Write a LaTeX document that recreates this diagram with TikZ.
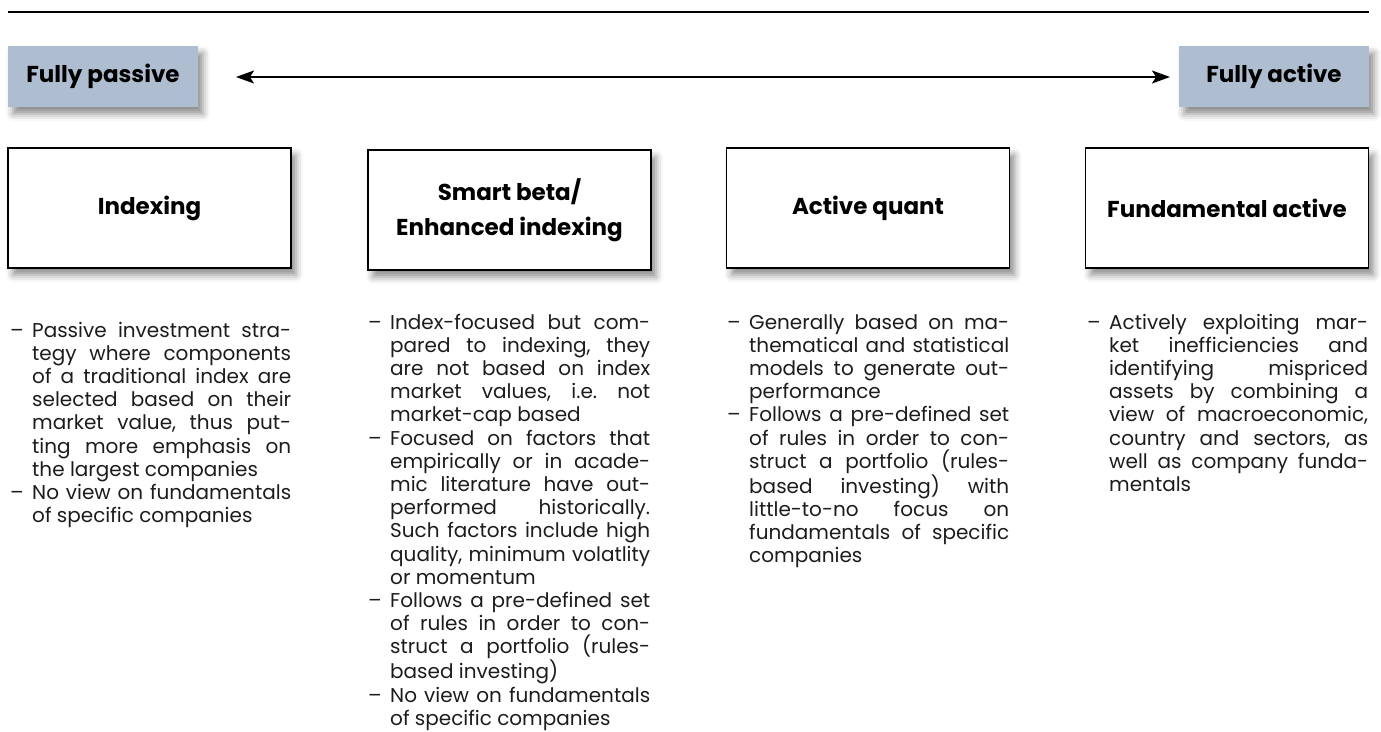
\documentclass[tikz,border=0pt]{standalone}
\usepackage{fontspec}
\setmainfont{Poppins}
\usetikzlibrary{arrows.meta,shadows.blur}
\definecolor{hdrfill}{RGB}{174,189,207}
\definecolor{bodytxt}{RGB}{28,28,28}
\newcommand\itm{\par\noindent\hangindent=22pt\hangafter=1\makebox[22pt][l]{–}\strut}
\newcommand\bodyfmt{\fontsize{20}{23.2}\selectfont\frenchspacing\tolerance=10000\hbadness=10000\hyphenpenalty=10000\exhyphenpenalty=10000\parindent=0pt}
\tikzset{
  softshadow/.style={blur shadow={shadow xshift=5pt,shadow yshift=-7pt,shadow blur radius=7pt,shadow opacity=45}},
  hdrbox/.style={fill=hdrfill, minimum width=190pt, minimum height=61pt, inner sep=0pt,
    font=\bfseries\fontsize{23}{27}\selectfont, softshadow},
  catbox/.style={draw=black, line width=1.2pt, fill=white, minimum width=283pt, minimum height=120pt,
    inner sep=0pt, align=center, font=\bfseries\fontsize{23}{35}\selectfont, softshadow},
  bodytext/.style={anchor=north west, inner sep=0pt, align=justify, text=bodytxt, font=\bodyfmt},
  rangearrow/.style={line width=1.8pt, {Stealth[length=18pt,width=13pt,inset=4pt]}-{Stealth[length=18pt,width=13pt,inset=4pt]}},
  rule/.style={line width=1.5pt}
}
\begin{document}
\begin{tikzpicture}[x=1pt,y=-1pt]
\useasboundingbox (0,0) rectangle (1381,731);
% top rule
\coordinate (tL) at (8,12);
\coordinate (tR) at (1369,12);
\draw[rule] (tL) -- (tR);
% headers
\node[hdrbox] (fp) at (103,76.5) {Fully passive};
\node[hdrbox] (fa) at (1274,76.5) {Fully active};
\coordinate (aL) at (236,77);
\coordinate (aR) at (1170,77);
\draw[rangearrow] (aL) -- (aR);
% category boxes
\node[catbox] (b1) at (149.5,208) {Indexing};
\node[catbox] (b2) at (509.5,210) {Smart beta/\\Enhanced indexing};
\node[catbox] (b3) at (868,208) {Active quant};
\node[catbox] (b4) at (1227,208) {Fundamental active};
% body texts
\node[bodytext, text width=281pt] (t1) at (10,313.76) {%
\itm Passive investment stra-\linebreak tegy where components\linebreak of a traditional index are\linebreak selected based on their\linebreak market value, thus put-\linebreak ting more emphasis on\linebreak the largest companies
\itm No view on fundamentals\linebreak of specific companies\par};
\node[bodytext, text width=282pt] (t2) at (368,305.76) {%
\itm Index-focused but com-\linebreak pared to indexing, they\linebreak are not based on index\linebreak market values, i.e. not\linebreak market-cap based
\itm Focused on factors that\linebreak empirically or in acade-\linebreak mic literature have out-\linebreak performed historically.\linebreak Such factors include high\linebreak quality, minimum volatlity\linebreak or momentum
\itm Follows a pre-defined set\linebreak of rules in order to con-\linebreak struct a portfolio (rules-\linebreak based investing)
\itm No view on fundamentals\linebreak of specific companies\par};
\node[bodytext, text width=282pt] (t3) at (727,305.76) {%
\itm Generally based on ma-\linebreak thematical and statistical\linebreak models to generate out-\linebreak performance
\itm Follows a pre-defined set\linebreak of rules in order to con-\linebreak struct a portfolio (rules-\linebreak based investing) with\linebreak little-to-no focus on\linebreak fundamentals of specific\linebreak companies\par};
\node[bodytext, text width=281pt] (t4) at (1087,305.76) {%
\itm Actively exploiting mar-\linebreak ket inefficiencies and\linebreak identifying mispriced\linebreak assets by combining a\linebreak view of macroeconomic,\linebreak country and sectors, as\linebreak well as company funda-\linebreak mentals\par};
\end{tikzpicture}
\end{document}
